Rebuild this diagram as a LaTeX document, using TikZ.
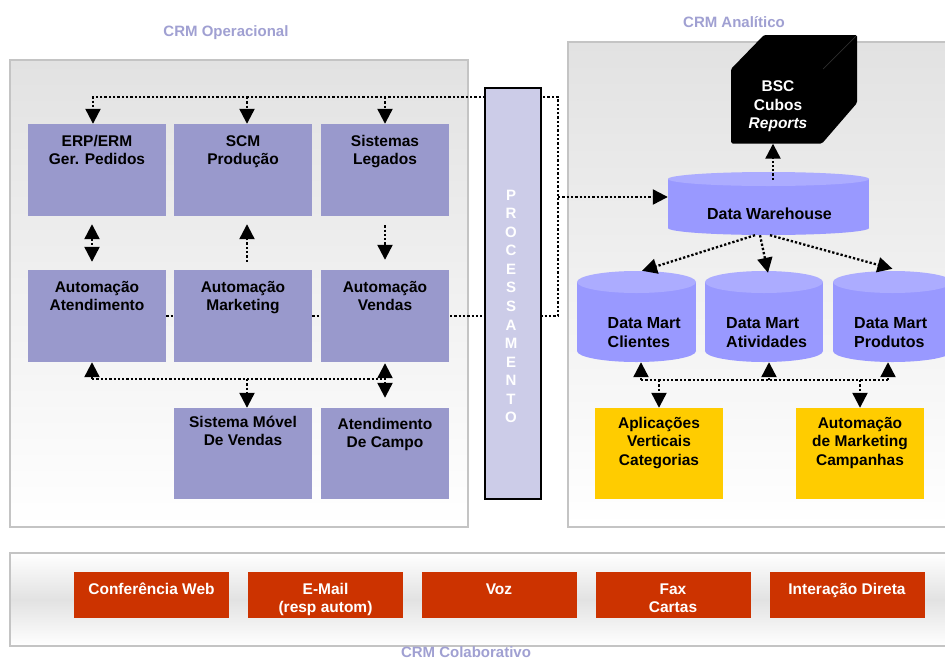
\documentclass[tikz,border=0pt]{standalone}
\usepackage{fontspec}
\setmainfont{Liberation Sans}
\usetikzlibrary{arrows.meta}
\definecolor{boxblue}{RGB}{153,153,204}
\definecolor{titlec}{RGB}{160,160,210}
\definecolor{cylbody}{RGB}{153,153,255}
\definecolor{cyltop}{RGB}{172,172,255}
\definecolor{procfill}{RGB}{204,204,232}
\definecolor{yel}{RGB}{255,204,0}
\definecolor{redb}{RGB}{204,51,0}
\definecolor{panelgray}{RGB}{226,226,226}
\definecolor{panelborder}{RGB}{196,196,196}
\begin{document}
\begin{tikzpicture}[x=1pt,y=-1pt,
  font=\fontsize{15.5}{18.5}\selectfont\bfseries,
  dl/.style={line width=2.3pt, dash pattern=on 2.3pt off 2pt},
  arr/.style={dl,-{Triangle[width=15pt,length=15pt]}},
  darr/.style={dl,{Triangle[width=15pt,length=15pt]}-{Triangle[width=15pt,length=15pt]}},
  panel/.style={draw=panelborder, line width=2pt},
  bbox/.style={fill=boxblue, inner sep=0pt, minimum height=92pt},
  ybox/.style={fill=yel, inner sep=0pt, minimum width=128pt, minimum height=91pt},
  rbox/.style={fill=redb, inner sep=0pt, minimum width=155pt, minimum height=46pt},
  txt/.style={anchor=north, inner sep=0pt, align=center},
  ttl/.style={text=titlec, font=\fontsize{15}{18}\selectfont\bfseries, inner sep=0pt, anchor=base},
  cyl/.style={inner sep=0pt, draw=none}
]
\useasboundingbox (0,0) rectangle (945,659);
\fill[white] (0,0) rectangle (945,659);

% panels
\draw[panel, top color=panelgray, bottom color=white] (10,60) rectangle (468,527);
\draw[panel, top color=panelgray, bottom color=white] (568,42) rectangle (960,527);
\draw[panel, top color=white, bottom color=white, middle color=panelgray] (10,553) rectangle (960,646);

% titles
\node[ttl] (t1) at (226,36.5) {CRM Operacional};
\node[ttl] (t2) at (734,27.5) {CRM Anal\'{\i}tico};
\node[ttl] (t3) at (466,657) {CRM Colaborativo};

% operational boxes (positions)
\node[bbox, minimum width=138pt] (erp) at (97,170) {};
\node[bbox, minimum width=138pt] (scm) at (243,170) {};
\node[bbox, minimum width=128pt] (leg) at (385,170) {};
\node[bbox, minimum width=138pt] (atd) at (97,316) {};
\node[bbox, minimum width=138pt] (mkt) at (243,316) {};
\node[bbox, minimum width=128pt] (vnd) at (385,316) {};
\node[bbox, minimum width=138pt, minimum height=91pt] (mov) at (243,453.5) {};
\node[bbox, minimum width=128pt, minimum height=91pt] (cmp) at (385,453.5) {};

% helper coordinates
\coordinate (cr) at (558,316);
\coordinate (ct) at (558,97);
\coordinate (by) at (0,379);
\coordinate (ry) at (0,380);
\coordinate (erpin) at ([xshift=-4pt]erp.north);
\coordinate (scmin) at ([xshift=4pt]scm.north);
\coordinate (legin) at (leg.north);
\coordinate (atdb) at ([xshift=-5pt]atd.south);
\coordinate (movin) at ([xshift=4pt]mov.north);

% connectors behind boxes (left)
\draw[arr] (atd.east) -- (cr) -- (ct) -- (erpin |- ct) -- (erpin);
\draw[arr] (scmin |- ct) -- (scmin);
\draw[arr] (legin |- ct) -- (legin);

% redraw boxes over the line
\foreach \n in {atd,mkt,vnd}{\fill[boxblue] (\n.north west) rectangle (\n.south east);}

\draw[darr] ([xshift=-5pt,yshift=-8pt]erp.south) -- ([xshift=-5pt,yshift=8pt]atd.north);
\draw[arr] ([xshift=4pt,yshift=8pt]mkt.north) -- ([xshift=4pt,yshift=-8pt]scm.south);
\draw[arr] ([yshift=-9pt]leg.south) -- ([yshift=10pt]vnd.north);

\draw[dl] (atdb |- by) -- (vnd.south |- by);
\draw[arr] (atdb |- by) -- (atdb);
\draw[darr] ([yshift=-1pt]vnd.south) -- ([yshift=10pt]cmp.north);
\draw[arr] (movin |- by) -- (movin);

% box texts
\node[txt] at ([yshift=-10pt]erp.north) {\rule{0pt}{12pt}ERP/ERM\\Ger. Pedidos};
\node[txt] at ([yshift=-10pt]scm.north) {\rule{0pt}{12pt}SCM\\Produ\c{c}\~ao};
\node[txt] at ([yshift=-10pt]leg.north) {\rule{0pt}{12pt}Sistemas\\Legados};
\node[txt] at ([yshift=-10pt]atd.north) {\rule{0pt}{12pt}Automa\c{c}\~ao\\Atendimento};
\node[txt] at ([yshift=-10pt]mkt.north) {\rule{0pt}{12pt}Automa\c{c}\~ao\\Marketing};
\node[txt] at ([yshift=-10pt]vnd.north) {\rule{0pt}{12pt}Automa\c{c}\~ao\\Vendas};
\node[txt] at ([yshift=-7pt]mov.north) {\rule{0pt}{12pt}Sistema M\'ovel\\De Vendas};
\node[txt] at ([yshift=-9pt]cmp.north) {\rule{0pt}{12pt}Atendimento\\De Campo};

% processing box
\node[draw, line width=1.5pt, fill=procfill, inner sep=0pt, minimum width=56pt, minimum height=411pt] (proc) at (513,293.5) {};
\node[txt, text=white, font=\fontsize{15}{18.55}\selectfont\bfseries] (proctxt) at (511,188) {\rule{0pt}{12pt}P\\R\\O\\C\\E\\S\\S\\A\\M\\E\\N\\T\\O};

% analytic side
% cube
\node[inner sep=0pt, minimum width=91pt, minimum height=74pt] (cube) at (773,106.5) {};
\fill[black, rounded corners=1.5pt] (731,69) -- (764,35) -- (857,35) -- (857,103) -- (822,143.5) -- (731,143.5) -- cycle;
\draw[black!82, line width=0.7pt] (823,69) -- (856,36);
\node[txt, text=white] (bsc) at (778,79.5) {\rule{0pt}{12pt}BSC\\Cubos\\\textit{Reports}};

% data warehouse cylinder
\node[cyl, minimum width=201pt, minimum height=63pt] (dw) at (768.5,203.5) {};
\fill[cylbody] (668,179) rectangle (869,228);
\fill[cylbody] (768.5,228) ellipse [x radius=100.5, y radius=7];
\fill[cyltop] (768.5,179) ellipse [x radius=100.5, y radius=7];
\node[anchor=base, inner sep=0pt, font=\fontsize{16}{19}\selectfont\bfseries] at (769.5,219) {Data Warehouse};

% data marts
\node[cyl, minimum width=119pt, minimum height=91pt] (dmc) at (636.5,316.5) {};
\node[cyl, minimum width=118pt, minimum height=91pt] (dma) at (764,316.5) {};
\node[cyl, minimum width=119pt, minimum height=91pt] (dmp) at (892.5,316.5) {};
\foreach \cx/\rx in {636.5/59.5, 764/59, 892.5/59.5}{
  \fill[cylbody] (\cx-\rx,282) rectangle (\cx+\rx,351);
  \fill[cylbody] (\cx,351) ellipse [x radius=\rx, y radius=11];
  \fill[cyltop] (\cx,282) ellipse [x radius=\rx, y radius=11];
}
\node[anchor=north west, inner sep=0pt, align=left, font=\fontsize{16}{19}\selectfont\bfseries] at (607.5,316) {\rule{0pt}{12pt}Data Mart\\Clientes};
\node[anchor=north west, inner sep=0pt, align=left, font=\fontsize{16}{19}\selectfont\bfseries] at (726,316) {\rule{0pt}{12pt}Data Mart\\Atividades};
\node[anchor=north west, inner sep=0pt, align=left, font=\fontsize{16}{19}\selectfont\bfseries] at (854,316) {\rule{0pt}{12pt}Data Mart\\Produtos};

% yellow boxes
\node[ybox] (apl) at (659,453.5) {};
\node[ybox] (amk) at (860,453.5) {};
\node[txt] at ([yshift=-8pt]apl.north) {\rule{0pt}{12pt}Aplica\c{c}\~oes\\Verticais\\Categorias};
\node[txt] at ([yshift=-8pt]amk.north) {\rule{0pt}{12pt}Automa\c{c}\~ao\\de Marketing\\Campanhas};

% analytic connectors
\coordinate (dwin) at ([yshift=6.5pt]dw.west);
\coordinate (dwtop) at (773,180);
\draw[arr] (ct |- dwin) -- (dwin);
\draw[arr] (dwtop) -- (cube.south);
\draw[arr] ([xshift=-13.5pt]dw.south) -- ([xshift=5.5pt]dmc.north);
\draw[arr] ([xshift=-8.5pt]dw.south) -- ([xshift=4pt,yshift=-2pt]dma.north);
\draw[arr] ([xshift=1.5pt]dw.south) -- ([yshift=2pt]dmp.north);

\coordinate (c1) at ([xshift=4.5pt]dmc.south);
\coordinate (c2) at ([xshift=5pt]dma.south);
\coordinate (c3) at ([xshift=-4.5pt]dmp.south);
\draw[dl] (c1 |- ry) -- (c3 |- ry);
\draw[arr] (c1 |- ry) -- (c1);
\draw[arr] (c2 |- ry) -- (c2);
\draw[arr] (c3 |- ry) -- (c3);
\draw[arr] (apl.north |- ry) -- (apl.north);
\draw[arr] (amk.north |- ry) -- (amk.north);

% collaborative boxes
\node[rbox] (web) at (151.5,595) {};
\node[rbox] (mail) at (325.5,595) {};
\node[rbox] (voz) at (499,595) {};
\node[rbox] (fax) at (673,595) {};
\node[rbox] (dir) at (847,595) {};
\foreach \n/\t in {web/{Confer\^encia Web}, mail/{E-Mail\\(resp autom)}, voz/{Voz}, fax/{Fax\\Cartas}, dir/{Intera\c{c}\~ao Direta}}{
  \node[txt, text=white] at ([yshift=-10pt]\n.north) {\rule{0pt}{12pt}\t};
}
\end{tikzpicture}
\end{document}
